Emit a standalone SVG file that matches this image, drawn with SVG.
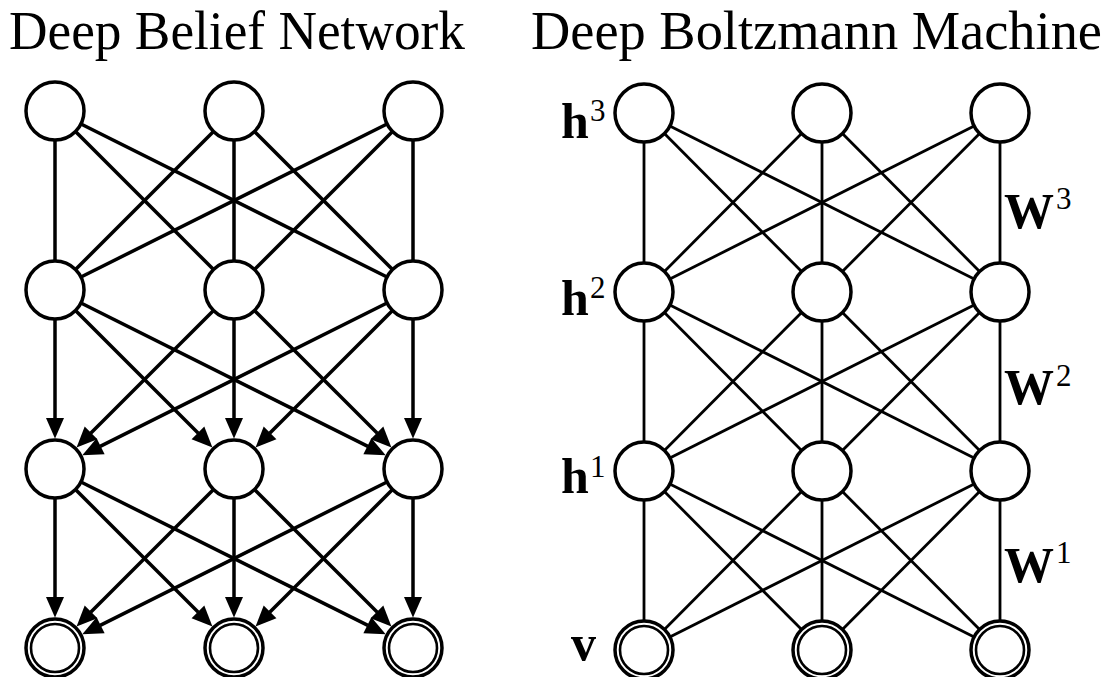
<svg xmlns="http://www.w3.org/2000/svg" width="1110" height="677" viewBox="0 0 1110 677">
<style>
.title{font-family:"Liberation Serif","Times New Roman",serif;font-size:54px;fill:#000}
.m{font-family:"Liberation Serif","Times New Roman",serif;font-weight:bold;font-size:50px;fill:#000}
.sup{font-family:"Liberation Serif","Times New Roman",serif;font-size:31px;fill:#000}
.node{fill:#fff;stroke:#000;stroke-width:3.5}
.inner{fill:#fff;stroke:#000;stroke-width:2.6}
.dbn line{stroke:#000;stroke-width:3.5}
.dbm line{stroke:#000;stroke-width:2.8}
</style>
<defs>
<marker id="arr" markerUnits="userSpaceOnUse" markerWidth="24" markerHeight="24" refX="0" refY="0" orient="auto" overflow="visible">
<path d="M-0.5,-9 L20,0 L-0.5,9 z" fill="#000"/>
</marker>
</defs>
<text class="title" x="9" y="49" textLength="456" lengthAdjust="spacingAndGlyphs">Deep Belief Network</text>
<text class="title" x="531" y="49" textLength="571" lengthAdjust="spacingAndGlyphs">Deep Boltzmann Machine</text>

<g id="connectors">
<g class="dbn">
<line x1="55" y1="111" x2="55" y2="290"/>
<line x1="55" y1="111" x2="234" y2="290"/>
<line x1="55" y1="111" x2="413" y2="290"/>
<line x1="234" y1="111" x2="55" y2="290"/>
<line x1="234" y1="111" x2="234" y2="290"/>
<line x1="234" y1="111" x2="413" y2="290"/>
<line x1="413" y1="111" x2="55" y2="290"/>
<line x1="413" y1="111" x2="234" y2="290"/>
<line x1="413" y1="111" x2="413" y2="290"/>
<g marker-end="url(#arr)">
<line x1="55" y1="290" x2="55" y2="418.5"/>
<line x1="55" y1="290" x2="198.29" y2="433.29"/>
<line x1="55" y1="290" x2="367.83" y2="446.42"/>
<line x1="234" y1="290" x2="90.71" y2="433.29"/>
<line x1="234" y1="290" x2="234" y2="418.5"/>
<line x1="234" y1="290" x2="377.29" y2="433.29"/>
<line x1="413" y1="290" x2="100.17" y2="446.42"/>
<line x1="413" y1="290" x2="269.71" y2="433.29"/>
<line x1="413" y1="290" x2="413" y2="418.5"/>
<line x1="55" y1="469" x2="55" y2="597.5"/>
<line x1="55" y1="469" x2="198.29" y2="612.29"/>
<line x1="55" y1="469" x2="367.83" y2="625.42"/>
<line x1="234" y1="469" x2="90.71" y2="612.29"/>
<line x1="234" y1="469" x2="234" y2="597.5"/>
<line x1="234" y1="469" x2="377.29" y2="612.29"/>
<line x1="413" y1="469" x2="100.17" y2="625.42"/>
<line x1="413" y1="469" x2="269.71" y2="612.29"/>
<line x1="413" y1="469" x2="413" y2="597.5"/>
</g>
</g>
<g class="dbm">
<line x1="644" y1="113" x2="644" y2="292"/>
<line x1="644" y1="113" x2="822" y2="292"/>
<line x1="644" y1="113" x2="1000" y2="292"/>
<line x1="822" y1="113" x2="644" y2="292"/>
<line x1="822" y1="113" x2="822" y2="292"/>
<line x1="822" y1="113" x2="1000" y2="292"/>
<line x1="1000" y1="113" x2="644" y2="292"/>
<line x1="1000" y1="113" x2="822" y2="292"/>
<line x1="1000" y1="113" x2="1000" y2="292"/>
<line x1="644" y1="292" x2="644" y2="471"/>
<line x1="644" y1="292" x2="822" y2="471"/>
<line x1="644" y1="292" x2="1000" y2="471"/>
<line x1="822" y1="292" x2="644" y2="471"/>
<line x1="822" y1="292" x2="822" y2="471"/>
<line x1="822" y1="292" x2="1000" y2="471"/>
<line x1="1000" y1="292" x2="644" y2="471"/>
<line x1="1000" y1="292" x2="822" y2="471"/>
<line x1="1000" y1="292" x2="1000" y2="471"/>
<line x1="644" y1="471" x2="644" y2="650"/>
<line x1="644" y1="471" x2="822" y2="650"/>
<line x1="644" y1="471" x2="1000" y2="650"/>
<line x1="822" y1="471" x2="644" y2="650"/>
<line x1="822" y1="471" x2="822" y2="650"/>
<line x1="822" y1="471" x2="1000" y2="650"/>
<line x1="1000" y1="471" x2="644" y2="650"/>
<line x1="1000" y1="471" x2="822" y2="650"/>
<line x1="1000" y1="471" x2="1000" y2="650"/>
</g>
</g>

<g id="dbn-nodes">
<g id="dbn-h3-1"><circle class="node" cx="55" cy="111" r="29"/></g>
<g id="dbn-h3-2"><circle class="node" cx="234" cy="111" r="29"/></g>
<g id="dbn-h3-3"><circle class="node" cx="413" cy="111" r="29"/></g>
<g id="dbn-h2-1"><circle class="node" cx="55" cy="290" r="29"/></g>
<g id="dbn-h2-2"><circle class="node" cx="234" cy="290" r="29"/></g>
<g id="dbn-h2-3"><circle class="node" cx="413" cy="290" r="29"/></g>
<g id="dbn-h1-1"><circle class="node" cx="55" cy="469" r="29"/></g>
<g id="dbn-h1-2"><circle class="node" cx="234" cy="469" r="29"/></g>
<g id="dbn-h1-3"><circle class="node" cx="413" cy="469" r="29"/></g>
<g id="dbn-v-1"><circle class="node" cx="55" cy="648" r="29"/><circle class="inner" cx="55" cy="648" r="24"/></g>
<g id="dbn-v-2"><circle class="node" cx="234" cy="648" r="29"/><circle class="inner" cx="234" cy="648" r="24"/></g>
<g id="dbn-v-3"><circle class="node" cx="413" cy="648" r="29"/><circle class="inner" cx="413" cy="648" r="24"/></g>
</g>

<g id="dbm-nodes">
<g id="dbm-h3-1"><circle class="node" cx="644" cy="113" r="29"/></g>
<g id="dbm-h3-2"><circle class="node" cx="822" cy="113" r="29"/></g>
<g id="dbm-h3-3"><circle class="node" cx="1000" cy="113" r="29"/></g>
<g id="dbm-h2-1"><circle class="node" cx="644" cy="292" r="29"/></g>
<g id="dbm-h2-2"><circle class="node" cx="822" cy="292" r="29"/></g>
<g id="dbm-h2-3"><circle class="node" cx="1000" cy="292" r="29"/></g>
<g id="dbm-h1-1"><circle class="node" cx="644" cy="471" r="29"/></g>
<g id="dbm-h1-2"><circle class="node" cx="822" cy="471" r="29"/></g>
<g id="dbm-h1-3"><circle class="node" cx="1000" cy="471" r="29"/></g>
<g id="dbm-v-1"><circle class="node" cx="644" cy="650" r="29"/><circle class="inner" cx="644" cy="650" r="24"/></g>
<g id="dbm-v-2"><circle class="node" cx="822" cy="650" r="29"/><circle class="inner" cx="822" cy="650" r="24"/></g>
<g id="dbm-v-3"><circle class="node" cx="1000" cy="650" r="29"/><circle class="inner" cx="1000" cy="650" r="24"/></g>
</g>

<g id="labels">
<text class="m" x="561" y="138">h</text><text class="sup" x="590" y="121">3</text>
<text class="m" x="561" y="315">h</text><text class="sup" x="590" y="298">2</text>
<text class="m" x="561" y="493">h</text><text class="sup" x="590" y="477">1</text>
<text class="m" x="571" y="660">v</text>
<text class="m" x="1004" y="228">W</text><text class="sup" x="1056" y="209">3</text>
<text class="m" x="1004" y="404">W</text><text class="sup" x="1056" y="386">2</text>
<text class="m" x="1004" y="582">W</text><text class="sup" x="1056" y="563">1</text>
</g>
</svg>
